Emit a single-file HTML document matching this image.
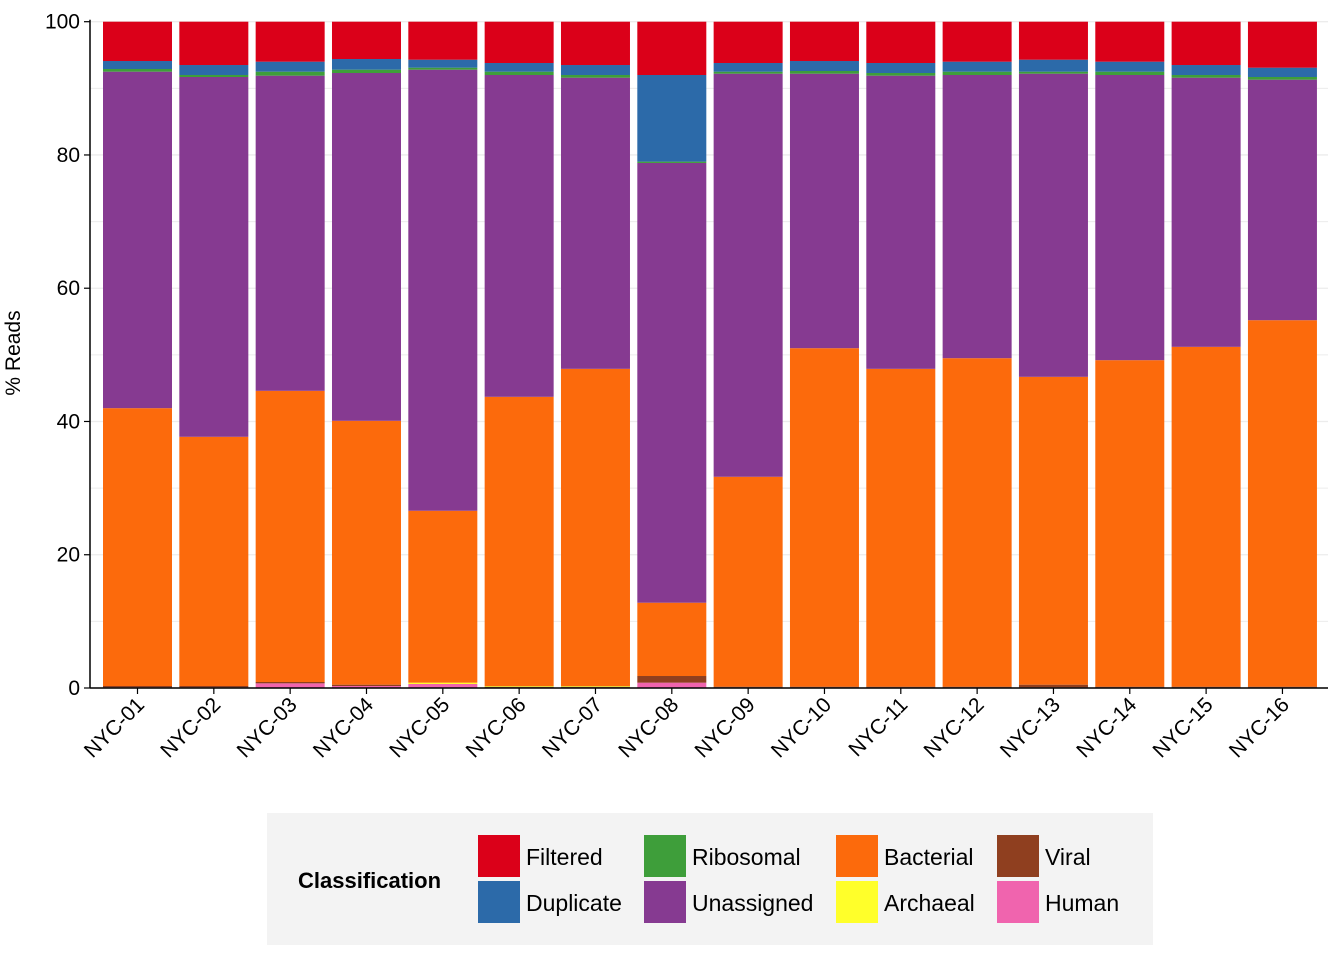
<!DOCTYPE html>
<html><head><meta charset="utf-8"><style>
body{margin:0;background:#fff;font-family:"Liberation Sans",Arial,sans-serif}
</style></head><body>
<svg id="chart" width="1344" height="960" xmlns="http://www.w3.org/2000/svg" font-family="Liberation Sans, Arial, sans-serif"></svg>
<script>
const categories=["NYC-01","NYC-02","NYC-03","NYC-04","NYC-05","NYC-06","NYC-07","NYC-08","NYC-09","NYC-10","NYC-11","NYC-12","NYC-13","NYC-14","NYC-15","NYC-16"];
const seriesNames=["Human","Viral","Archaeal","Bacterial","Unassigned","Ribosomal","Duplicate","Filtered"];
const human=[0.1,0.1,0.7,0.3,0.6,0.1,0.1,0.8,0.1,0.1,0.1,0.1,0.1,0.1,0.1,0.1];
const viral=[0.2,0.2,0.2,0.2,0,0.1,0.1,1.0,0.1,0.1,0.1,0.1,0.4,0.1,0.1,0.1];
const archaeal=[0,0,0,0,0.2,0.1,0.1,0,0,0,0,0,0,0,0,0];
const bacterial=[41.7,37.4,43.7,39.6,25.8,43.4,47.6,11.0,31.5,50.8,47.7,49.3,46.2,49.0,51.0,55.0];
const unassigned=[50.5,54.0,47.3,52.2,66.2,48.3,43.7,66.0,60.5,41.2,44.0,42.5,45.5,42.8,40.4,36.1];
const ribosomal=[0.4,0.3,0.6,0.5,0.3,0.5,0.4,0.2,0.3,0.4,0.4,0.5,0.3,0.5,0.4,0.4];
const duplicate=[1.2,1.5,1.5,1.6,1.2,1.3,1.5,13.0,1.3,1.5,1.5,1.5,1.8,1.5,1.5,1.4];
const filtered=[5.9,6.5,6.0,5.6,5.7,6.2,6.5,8.0,6.2,5.9,6.2,6.0,5.7,6.0,6.5,6.9];
const yTicks=[0,20,40,60,80,100];
const colors=["#f064ae","#8f3f1f","#ffff2a","#fc6a0c","#863a91","#3e9e3a","#2c6aa9","#db0019"];
const series=[human,viral,archaeal,bacterial,unassigned,ribosomal,duplicate,filtered];
const svg=document.getElementById('chart');
const NS="http://www.w3.org/2000/svg";
const x0=90,x1=1328,yBase=688,yTop=21.7;
const y=v=>yBase-(yBase-yTop)*v/100;
const step=76.33,bw=69;
const xc=i=>137.5+i*step;
function mk(t,a){const e=document.createElementNS(NS,t);for(const k in a)e.setAttribute(k,a[k]);svg.appendChild(e);return e;}
for(let v=0;v<=100;v+=10){const g=mk('line',{x1:x0,x2:x1,y1:y(v),y2:y(v),stroke:'#ececec','stroke-width':v%20?1:1.3});

}
categories.forEach((c,i)=>{let cum=0;series.forEach((s,j)=>{const v=s[i];const r=mk('rect',{x:xc(i)-bw/2,y:y(cum+v),width:bw,height:Math.max(0,y(cum)-y(cum+v)),fill:colors[j]});


cum+=v;});
const tk=mk('line',{x1:xc(i),x2:xc(i),y1:yBase,y2:yBase+6,stroke:'#000','stroke-width':1.2});


const t=mk('text',{x:xc(i)+8,y:yBase+18,'font-size':21,'text-anchor':'end',transform:`rotate(-45 ${xc(i)+8} ${yBase+18})`,fill:'#000'});
t.textContent=c;

});
yTicks.forEach(v=>{const tk=mk('line',{x1:x0-6,x2:x0,y1:y(v),y2:y(v),stroke:'#000','stroke-width':1.2});


const t=mk('text',{x:x0-10,y:y(v)+7,'font-size':21,'text-anchor':'end',fill:'#000'});t.textContent=v;

});
const ax=mk('line',{x1:x0,x2:x0,y1:yTop-2,y2:yBase,stroke:'#000','stroke-width':1.5});


const bx=mk('line',{x1:x0,x2:x1,y1:yBase,y2:yBase,stroke:'#000','stroke-width':1.5});


const yt=mk('text',{x:20,y:353,'font-size':21,'text-anchor':'middle',transform:'rotate(-90 20 353)',fill:'#000'});yt.textContent='% Reads';


const lb=mk('rect',{x:267,y:813,width:886,height:132,fill:'#f3f3f3'});


const lt=mk('text',{x:298,y:888,'font-size':22,'font-weight':'bold',fill:'#000'});lt.textContent='Classification';


const legendItems=[["Filtered",7,478,835],["Duplicate",6,478,881],["Ribosomal",5,644,835],["Unassigned",4,644,881],["Bacterial",3,836,835],["Archaeal",2,836,881],["Viral",1,997,835],["Human",0,997,881]];
legendItems.forEach(([n,ci,lx,ly])=>{const s=mk('rect',{x:lx,y:ly,width:42,height:42,fill:colors[ci]});


const t=mk('text',{x:lx+48,y:ly+30,'font-size':23,fill:'#000'});t.textContent=n;

});
</script>
</body></html>
